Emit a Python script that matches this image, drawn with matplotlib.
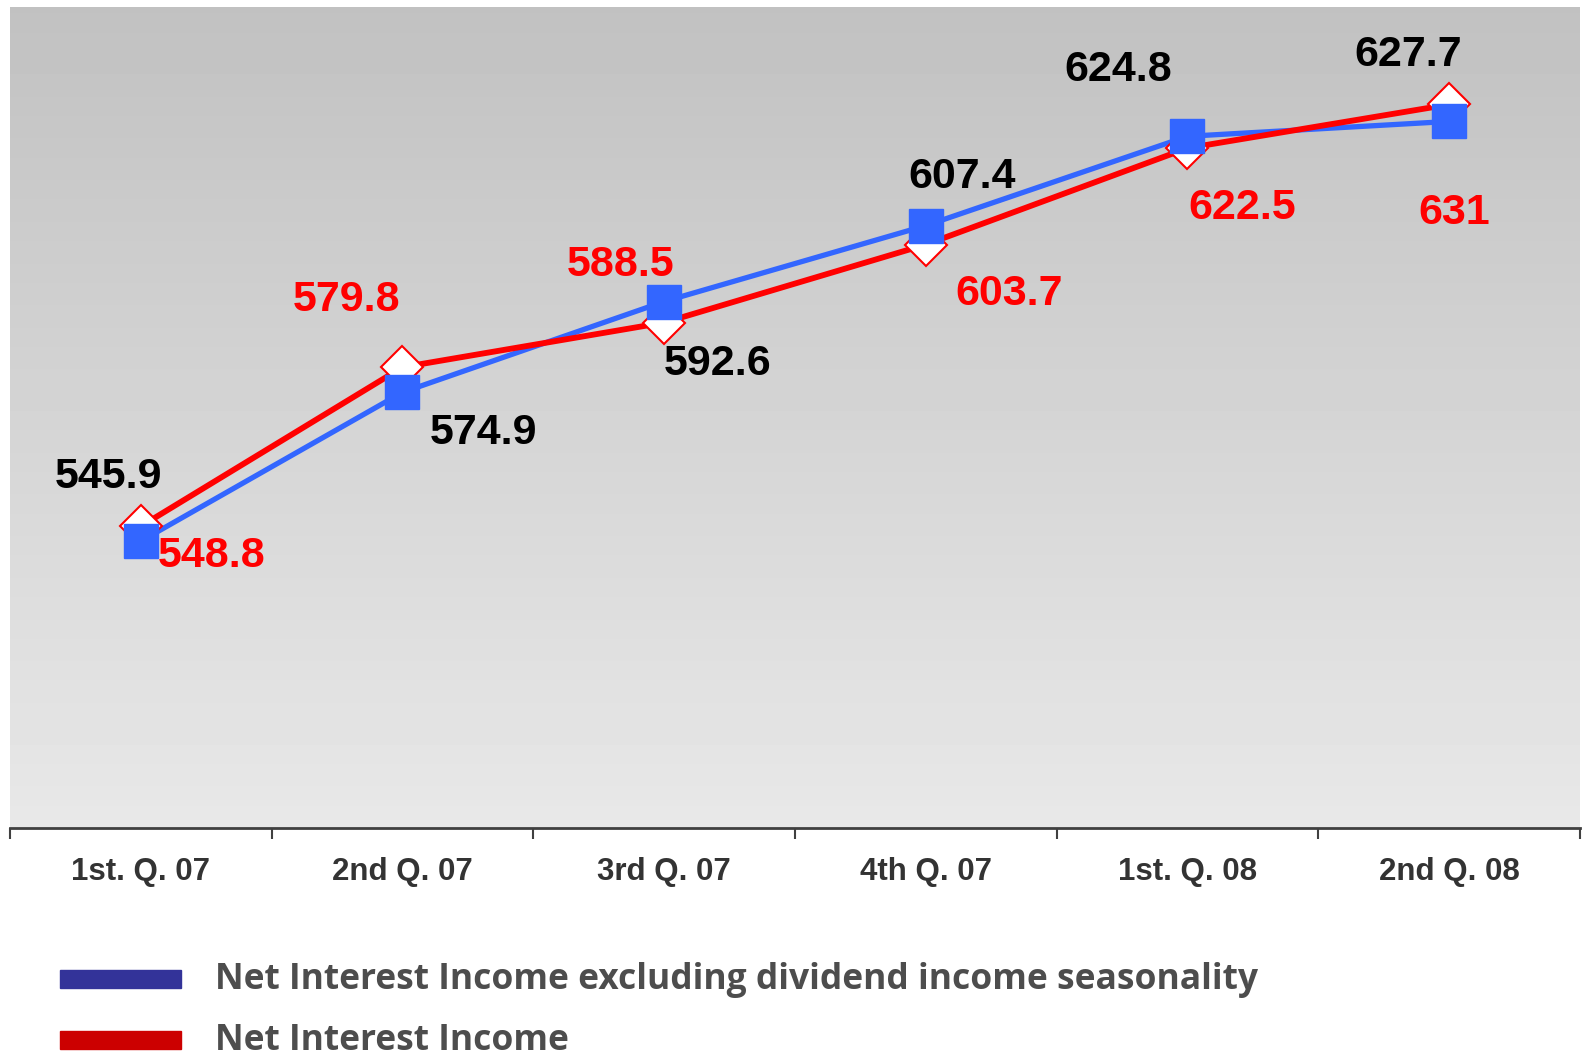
import matplotlib.pyplot as plt
import numpy as np
from matplotlib.patches import Rectangle

quarters = ['1st. Q. 07', '2nd Q. 07', '3rd Q. 07', '4th Q. 07', '1st. Q. 08', '2nd Q. 08']
nii_excl_dividends = [545.9, 574.9, 592.6, 607.4, 624.8, 627.7]
nii = [548.8, 579.8, 588.5, 603.7, 622.5, 631]
legend_labels = ['Net Interest Income excluding dividend income seasonality', 'Net Interest Income']

# label offsets in pixels (dx, dy) relative to each point
blue_offsets = [(-32, 64), (81, -41), (53, -62), (36, 49), (-69, 66), (-41, 66)]
red_offsets = [(71, -30), (-56, 67), (-44, 58), (83, -49), (55, -60), (5, -109)]

fig = plt.figure(figsize=(15.83, 10.58), dpi=100)
ax = fig.add_axes([10 / 1583, 1 - 828 / 1058, 1570 / 1583, 821 / 1058])

x = np.arange(len(quarters))

# gradient background, darker at the top
grad = np.linspace(0.757, 0.91, 256).reshape(-1, 1)
ax.imshow(grad, cmap='gray', vmin=0, vmax=1, aspect='auto', extent=[0, 1, 0, 1],
          transform=ax.transAxes, zorder=0)

ax.plot(x, nii_excl_dividends, color='#3366ff', lw=3.8, zorder=2)
ax.plot(x, nii, color='#ff0000', lw=4.2, zorder=3)
ax.plot(x, nii, ls='none', marker='D', ms=21, mfc='white', mec='#ff0000', mew=1.5, zorder=4)
ax.plot(x, nii_excl_dividends, ls='none', marker='s', ms=24, mfc='#3366ff', mec='#3366ff', zorder=5)

for i in range(len(x)):
    ax.annotate(f'{nii_excl_dividends[i]:g}', (x[i], nii_excl_dividends[i]),
                xytext=blue_offsets[i], textcoords='offset pixels', ha='center', va='center',
                fontsize=31, fontweight='bold', color='black', family='Liberation Sans', zorder=6)
    ax.annotate(f'{nii[i]:g}', (x[i], nii[i]),
                xytext=red_offsets[i], textcoords='offset pixels', ha='center', va='center',
                fontsize=31, fontweight='bold', color='#ff0000', family='Liberation Sans', zorder=6)

ax.set_xlim(-0.5, 5.5)
ax.set_ylim(490, 650)
ax.set_yticks([])
ax.set_xticks(np.arange(-0.5, 6, 1))
ax.set_xticklabels([])
ax.set_xticks(x, minor=True)
ax.set_xticklabels(quarters, minor=True, fontsize=22.5, fontweight='bold', color='#333333',
                   family='Liberation Sans')
ax.tick_params(axis='x', which='major', length=8, width=1.5, color='#404040', direction='out')
ax.tick_params(axis='x', which='minor', length=0, pad=21)
for s in ['top', 'left', 'right']:
    ax.spines[s].set_visible(False)
ax.spines['bottom'].set_color('#404040')
ax.spines['bottom'].set_linewidth(2)

# legend
leg_colors = ['#333399', '#cc0000']
leg_y = [979, 1040]
for c, yc, lab in zip(leg_colors, leg_y, legend_labels):
    fig.patches.append(Rectangle((60 / 1583, 1 - (yc + 9) / 1058), 121 / 1583, 18 / 1058,
                                 transform=fig.transFigure, color=c))
    fig.text(215 / 1583, 1 - (yc + 1) / 1058, lab, fontsize=25.5, color='#4d4d4d', va='center',
             ha='left', family='Open Sans', fontweight='bold')

fig.savefig('out.png', dpi=100)
